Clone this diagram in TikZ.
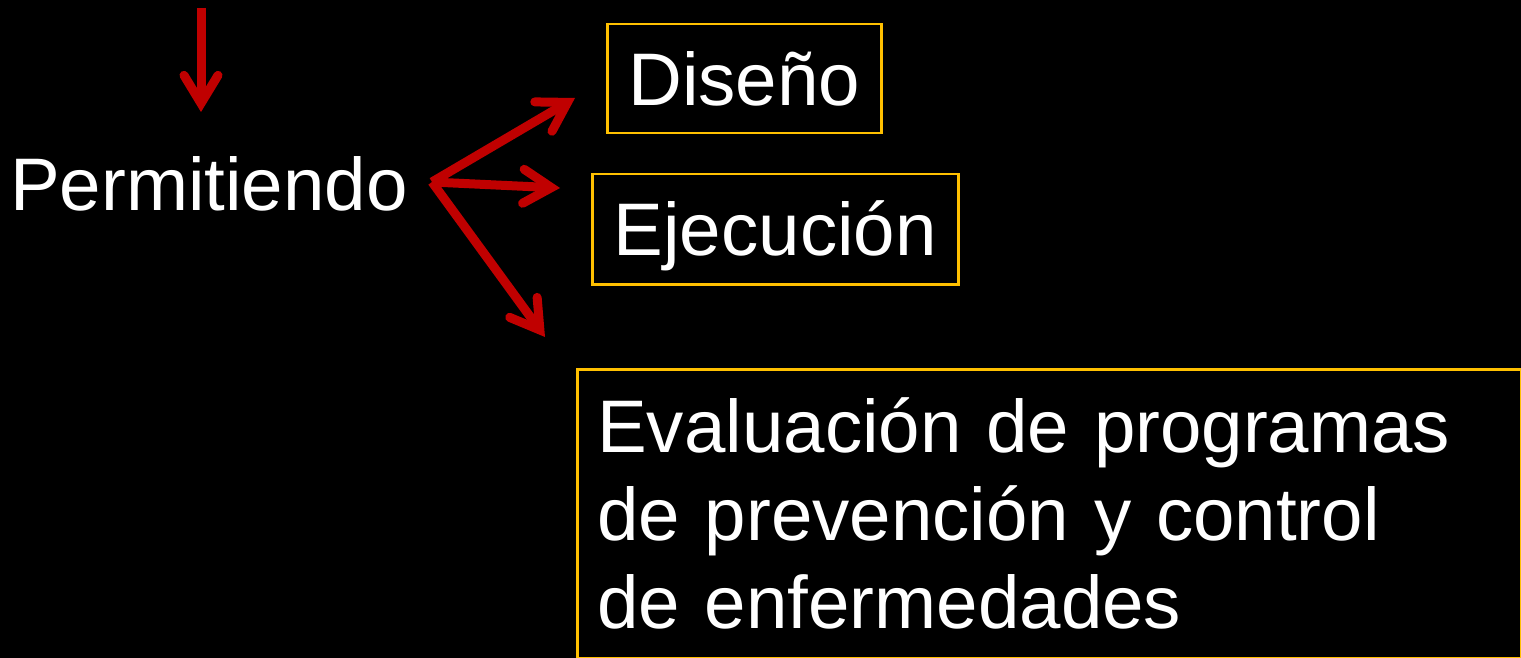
\documentclass[tikz,border=0pt]{standalone}
\usepackage{fontspec}
\setmainfont{Liberation Sans}
\usetikzlibrary{arrows.meta}
\definecolor{arrowred}{HTML}{C00000}
\definecolor{boxgold}{HTML}{FFC000}

\begin{document}
\begin{tikzpicture}[x=1pt,y=-1pt,
    label text/.style={text=white,font=\fontsize{74.5}{88}\selectfont,inner sep=0pt},
    goldbox/.style={label text,draw=boxgold,line width=2.5pt,text height=53pt,text depth=0pt},
    redarrow/.style={draw=arrowred,line width=9pt,
      -{Straight Barb[length=28pt,width=34pt,line cap=round,line join=miter]}}]
    % background and page size
    \fill[black] (0,0) rectangle (1521,658);
    \useasboundingbox (0,0) rectangle (1521,658);

    % text and boxes
    \node[label text,anchor=base west] (perm) at (10,211) {Permitiendo};
    \node[goldbox,anchor=north west,minimum width=274pt,minimum height=109pt] (dis) at (606,23) {Diseño};
    \node[goldbox,anchor=north west,minimum width=366pt,minimum height=110pt] (eje) at (591,173) {Ejecución};
    \node[label text,draw=boxgold,line width=2.5pt,anchor=north west,
          minimum width=944pt,minimum height=289pt,text width=904pt,align=left] (eval) at (576,368)
          {Evaluación de programas\\de prevención y control\\de enfermedades};

    % arrow ends
    \coordinate (top) at (201,8);
    \coordinate (down) at (201,112);
    \coordinate (fork) at (432,182);
    \coordinate (todis) at (575,98);
    \coordinate (toeje) at (560,188);
    \coordinate (toeval) at (545,337);

    \draw[redarrow] (top) -- (down);
    \draw[redarrow] (fork) -- (todis);
    \draw[redarrow] (fork) -- (toeje);
    \draw[redarrow] (fork) -- (toeval);
\end{tikzpicture}
\end{document}
